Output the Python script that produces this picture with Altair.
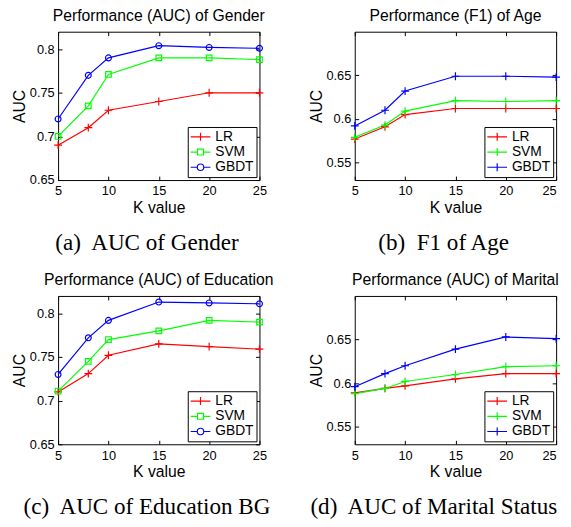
import altair as alt
import pandas as pd

# ---------------- data ----------------
K = [5, 8, 10, 15, 20, 25]
methods = ["LR", "SVM", "GBDT"]
colors = ["#ff0000", "#00ff00", "#0000ff"]
x_ticks = [5, 10, 15, 20, 25]

gender_lr = [0.690, 0.710, 0.730, 0.740, 0.750, 0.750]
gender_svm = [0.700, 0.735, 0.771, 0.790, 0.790, 0.788]
gender_gbdt = [0.720, 0.770, 0.790, 0.804, 0.802, 0.801]

age_lr = [0.577, 0.591, 0.605, 0.612, 0.612, 0.612]
age_svm = [0.579, 0.593, 0.609, 0.621, 0.620, 0.621]
age_gbdt = [0.592, 0.610, 0.632, 0.649, 0.649, 0.648]

edu_lr = [0.710, 0.731, 0.752, 0.765, 0.762, 0.759]
edu_svm = [0.711, 0.745, 0.770, 0.780, 0.792, 0.790]
edu_gbdt = [0.730, 0.772, 0.792, 0.813, 0.812, 0.811]

mar_lr = [0.589, 0.594, 0.597, 0.605, 0.611, 0.611]
mar_svm = [0.588, 0.594, 0.602, 0.610, 0.619, 0.620]
mar_gbdt = [0.596, 0.611, 0.620, 0.639, 0.653, 0.651]

titles = ["Performance (AUC) of Gender", "Performance (F1) of Age",
          "Performance (AUC) of Education", "Performance (AUC) of Marital"]
captions = ["(a)\u00a0 AUC of Gender", "(b)\u00a0 F1 of Age",
            "(c)\u00a0 AUC of Education BG", "(d)\u00a0 AUC of Marital Status"]
y_domain_high = [0.65, 0.82]
y_domain_low = [0.53, 0.70]
y_ticks_high = [0.65, 0.7, 0.75, 0.8]
y_ticks_low = [0.55, 0.6, 0.65]

# marker shapes (plot) and legend symbols (line + marker)
PLUS = "M-1.33,0H1.33M0,-1.33V1.33"
SQUARE = "M-0.95,-0.95H0.95V0.95H-0.95Z"
CIRCLE = "circle"
LEG_PLUS = "M-1.67,0H1.67M0,-0.67V0.67"
LEG_SQUARE = "M-1.67,0H-0.5M0.5,0H1.67M-0.5,-0.5H0.5V0.5H-0.5Z"
LEG_CIRCLE = "M-1.67,0H-0.55M0.55,0H1.67M-0.55,0A0.55,0.55,0,1,0,0.55,0A0.55,0.55,0,1,0,-0.55,0"

FONT = "Liberation Sans"
W, H = 205, 151


def panel(title, caption, lr, svm, gbdt, ydom, yvals, markers, legsyms, right, cap_x):
    df = pd.DataFrame({
        "K": K * 3,
        "value": lr + svm + gbdt,
        "method": ["LR"] * len(K) + ["SVM"] * len(K) + ["GBDT"] * len(K),
    })
    xs = alt.Scale(domain=[5, 25], nice=False, zero=False)
    ys = alt.Scale(domain=ydom, nice=False, zero=False)
    cscale = alt.Scale(domain=methods, range=colors)
    if right:
        lab_align = {"condition": {"test": "datum.value == 25", "value": "right"},
                     "value": "center"}
    else:
        lab_align = "center"
    base = alt.Chart(df)

    lines = base.mark_line(strokeWidth=1.2).encode(
        x=alt.X("K:Q", scale=xs, axis=alt.Axis(
            orient="bottom", values=x_ticks, offset=-4, tickSize=4, labelPadding=5,
            labelFontSize=13, labelFlush=False, labelAlign=lab_align,
            title="K value", titleFontSize=16, titlePadding=2, titleFontWeight="normal",
            domain=False, grid=False)),
        y=alt.Y("value:Q", scale=ys, axis=alt.Axis(
            orient="left", values=yvals, format="~g", offset=-4, tickSize=4,
            labelPadding=4, labelFontSize=13,
            title="AUC", titleFontSize=16, titlePadding=2, titleFontWeight="normal",
            domain=False, grid=False)),
        color=alt.Color("method:N", scale=cscale, legend=None),
    )

    points = base.mark_point(filled=False, size=36, strokeWidth=1.2, opacity=1).encode(
        x=alt.X("K:Q", scale=xs, axis=alt.Axis(
            orient="top", values=x_ticks, labels=False, offset=-4, tickSize=4,
            title=None, domain=False, grid=False)),
        y=alt.Y("value:Q", scale=ys, axis=alt.Axis(
            orient="right", values=yvals, labels=False, offset=-4, tickSize=4,
            title=None, domain=False, grid=False)),
        color=alt.Color("method:N", scale=cscale, legend=None),
        shape=alt.Shape("method:N", scale=alt.Scale(domain=methods, range=markers), legend=None),
    )

    leg = alt.Legend(title=None, orient="bottom-right", offset=3, padding=3,
                     strokeColor="black", fillColor="white", cornerRadius=0,
                     labelFont=FONT, labelFontSize=14, labelColor="black",
                     symbolSize=144, symbolOffset=3, labelOffset=8, rowPadding=1.5,
                     symbolStrokeWidth=1.2, symbolOpacity=1)

    legend_layer = base.mark_point(filled=False, size=36, opacity=0).encode(
        x=alt.X("K:Q", scale=xs, axis=alt.Axis(
            orient="bottom", domain=False, ticks=False, labels=False, grid=False,
            title=caption, titleFont="Liberation Serif", titleFontSize=23.5,
            titleFontWeight="normal", titleX=cap_x, titleY=70.5, titleAlign="center",
            titleBaseline="alphabetic", titleColor="black")),
        y=alt.Y("value:Q", scale=ys, axis=None),
        color=alt.Color("method:N", scale=cscale, legend=leg),
        shape=alt.Shape("method:N", scale=alt.Scale(domain=methods, range=legsyms), legend=leg),
    )

    return alt.layer(lines, points, legend_layer).resolve_scale(
        color="independent", shape="independent"
    ).resolve_axis(
        x="independent", y="independent"
    ).properties(
        width=W, height=H,
        title=alt.TitleParams(text=title, fontSize=16, font=FONT, fontWeight="normal",
                              color="black", offset=7.5, anchor="middle"),
    )


m3 = [PLUS, SQUARE, CIRCLE]
l3 = [LEG_PLUS, LEG_SQUARE, LEG_CIRCLE]
mp = [PLUS, PLUS, PLUS]
lp = [LEG_PLUS, LEG_PLUS, LEG_PLUS]

pa = panel(titles[0], captions[0], gender_lr, gender_svm, gender_gbdt,
           y_domain_high, y_ticks_high, m3, l3, False, 90)
pb = panel(titles[1], captions[1], age_lr, age_svm, age_gbdt,
           y_domain_low, y_ticks_low, mp, lp, True, 90)
pc = panel(titles[2], captions[2], edu_lr, edu_svm, edu_gbdt,
           y_domain_high, y_ticks_high, m3, l3, False, 90)
pd_ = panel(titles[3], captions[3], mar_lr, mar_svm, mar_gbdt,
            y_domain_low, y_ticks_low, mp, lp, True, 80)

chart = alt.concat(
    pa, pb, pc, pd_, columns=2,
    spacing=alt.RowColnumber(row=118, column=97), bounds="flush",
).properties(
    padding={"left": 3, "top": -5.5, "right": 0, "bottom": 0},
).configure(
    font=FONT,
).configure_view(
    stroke="black", strokeWidth=1,
).configure_axis(
    labelColor="black", titleColor="black", tickColor="black", tickWidth=1,
    labelFont=FONT, titleFont=FONT, grid=False, domain=False,
)

chart.save("out.html", embed_options={"renderer": "svg", "actions": False})
